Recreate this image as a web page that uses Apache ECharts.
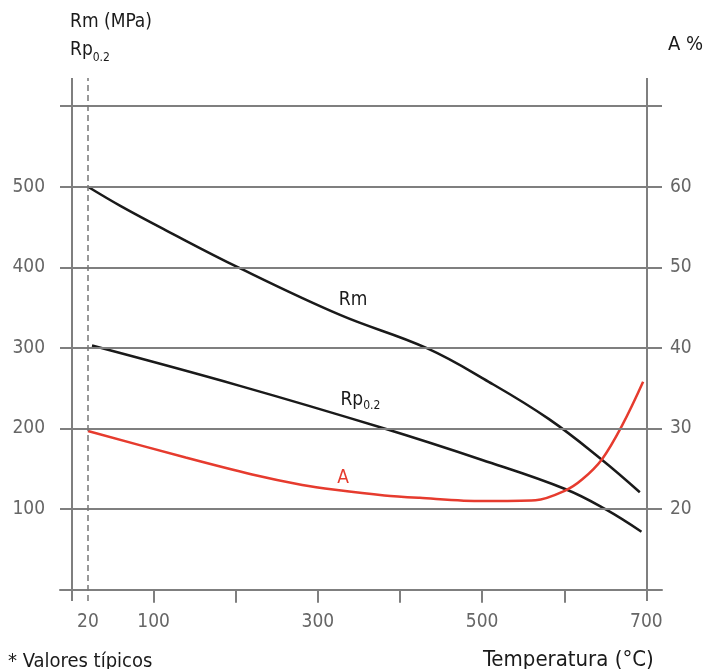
<!DOCTYPE html>
<html lang="es">
<head>
<meta charset="UTF-8">
<title>Rm, Rp0.2 y A frente a la temperatura</title>
<script src="https://cdn.jsdelivr.net/npm/echarts@6/dist/echarts.min.js"></script>
<style>
  html, body { margin: 0; padding: 0; background: #fff; }
  #chart { width: 710px; height: 669px; }
</style>
</head>
<body>
<div id="chart"></div>
<script>
// valores típicos
const rmTemp = [20, 60, 115, 203, 327, 432, 508, 581, 645, 692];
const rmValues = [500, 476, 446, 400, 341, 300, 258, 212, 162, 121];

const rpTemp = [25, 205, 381, 500, 601, 650, 694];
const rpValues = [303, 253, 200, 161, 125, 100, 72];

const aTemp = [20, 139, 220, 281, 321, 381, 424, 500, 565, 601, 622, 646, 670, 696];
const aValues = [29.7, 26.4, 24.3, 23.0, 22.4, 21.7, 21.4, 21.0, 21.1, 22.3, 23.7, 26.2, 30.3, 35.8];

// ejes
const tempLabels = [20, 100, 300, 500, 700];
const tempTicks = [100, 200, 300, 400, 500, 600];
const rmLabels = [100, 200, 300, 400, 500];
const aLabels = [20, 30, 40, 50, 60];
const gridValues = [100, 200, 300, 400, 500, 600];
const frameTemps = [0, 700];
const refTemp = 20;

const FONT = '"DejaVu Sans Condensed", "DejaVu Sans", sans-serif';
const GRAY = '#7f7f7f';
const INK = '#1a1a1a';
const RED = '#e63b2e';

// A % = Rm / 10 + 10
const rmMin = -14, rmMax = 635;

function pairs(xs, ys, labelAt, label) {
    return xs.map((x, i) => {
        if (x === labelAt) return { value: [x, ys[i]], label: label };
        return [x, ys[i]];
    });
}

const chart = echarts.init(document.getElementById('chart'));

const option = {
    animation: false,
    textStyle: { fontFamily: FONT },
    grid: { left: 60, right: 48, top: 78, bottom: 68 },
    title: [
        {
            text: '{a|Rm (MPa)}\n{a|Rp}{b|0.2}',
            left: 70, top: 8, padding: 0,
            textStyle: {
                fontWeight: 'normal',
                rich: {
                    a: { fontSize: 19, color: INK, fontFamily: FONT, fontWeight: 'normal', lineHeight: 28 },
                    b: { fontSize: 12, color: INK, fontFamily: FONT, fontWeight: 'normal', verticalAlign: 'bottom', lineHeight: 22 }
                }
            }
        },
        {
            text: 'A %', left: 668, top: 35, padding: 0,
            textStyle: { fontSize: 20, color: INK, fontWeight: 'normal', fontFamily: FONT }
        },
        {
            text: '* Valores típicos', left: 8, top: 652, padding: 0,
            textStyle: { fontSize: 20, color: INK, fontWeight: 'normal', fontFamily: FONT }
        },
        {
            text: 'Temperatura (°C)', left: 483, top: 649, padding: 0,
            textStyle: { fontSize: 22, color: INK, fontWeight: 'normal', fontFamily: FONT }
        }
    ],
    xAxis: {
        type: 'value', min: -14, max: 719,
        axisLine: { onZero: true, onZeroAxisIndex: 0, lineStyle: { color: GRAY, width: 2 } },
        axisTick: { customValues: tempTicks, length: 13, lineStyle: { color: GRAY, width: 2 } },
        axisLabel: { customValues: tempLabels, margin: 12, fontSize: 19, color: '#666', fontFamily: FONT },
        splitLine: { show: false }
    },
    yAxis: [
        {
            type: 'value', min: rmMin, max: rmMax, position: 'left',
            axisLine: { show: false }, axisTick: { show: false }, splitLine: { show: false },
            axisLabel: { customValues: rmLabels, margin: 15, fontSize: 19, color: '#666', fontFamily: FONT }
        },
        {
            type: 'value', min: rmMin / 10 + 10, max: rmMax / 10 + 10, position: 'right',
            axisLine: { show: false }, axisTick: { show: false }, splitLine: { show: false },
            axisLabel: { customValues: aLabels, margin: 8, fontSize: 19, color: '#666', fontFamily: FONT }
        }
    ],
    series: [
        {
            // rejilla y marco
            name: 'rejilla', type: 'line', data: [], z: 1, silent: true,
            markLine: {
                silent: true, symbol: 'none', label: { show: false },
                lineStyle: { color: GRAY, width: 2, type: 'solid' },
                data: gridValues.map(v => ({ yAxis: v }))
                    .concat(frameTemps.map(t => ({ xAxis: t })))
                    .concat([{ xAxis: refTemp, lineStyle: { type: [6, 4], width: 1.5, color: '#777' } }])
            }
        },
        {
            name: 'Rm', type: 'line', smooth: 0.4, showSymbol: true, symbol: 'circle', symbolSize: 0, z: 3,
            lineStyle: { color: INK, width: 2.5 },
            data: pairs(rmTemp, rmValues, 327, {
                show: true, position: 'top', offset: [13, 0], formatter: 'Rm',
                fontSize: 19, color: INK, fontFamily: FONT
            })
        },
        {
            name: 'Rp0.2', type: 'line', smooth: 0.4, showSymbol: true, symbol: 'circle', symbolSize: 0, z: 3,
            lineStyle: { color: INK, width: 2.5 },
            data: pairs(rpTemp, rpValues, 381, {
                show: true, position: 'top', offset: [-24, -12], formatter: '{a|Rp}{b|0.2}',
                rich: {
                    a: { fontSize: 19, color: INK, fontFamily: FONT, lineHeight: 22 },
                    b: { fontSize: 12, color: INK, fontFamily: FONT, verticalAlign: 'bottom', lineHeight: 18 }
                }
            })
        },
        {
            name: 'A', type: 'line', yAxisIndex: 1, smooth: 0.3,
            showSymbol: true, symbol: 'circle', symbolSize: 0, z: 3,
            lineStyle: { color: RED, width: 2.5 },
            data: pairs(aTemp, aValues, 321, {
                show: true, position: 'top', offset: [8, 3], formatter: 'A',
                fontSize: 19, color: RED, fontFamily: FONT
            })
        }
    ]
};

chart.setOption(option);
</script>
</body>
</html>
